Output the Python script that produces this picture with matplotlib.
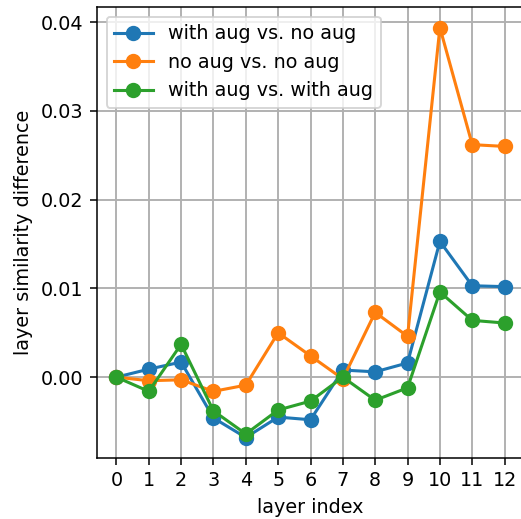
import matplotlib
matplotlib.use('Agg')
from matplotlib import pyplot as plt
import numpy as np

layers = list(range(13))

aug_vs_noaug = [0.0, 0.0009, 0.0017, -0.0046, -0.0068, -0.0045, -0.0048,
                0.0008, 0.0006, 0.0016, 0.0153, 0.0103, 0.0102]
noaug_vs_noaug = [0.0, -0.0004, -0.0003, -0.0016, -0.0009, 0.0050, 0.0024,
                  -0.0002, 0.0073, 0.0046, 0.0394, 0.0262, 0.0260]
aug_vs_aug = [0.0, -0.0016, 0.0037, -0.0038, -0.0064, -0.0037, -0.0027,
              0.0000, -0.0026, -0.0012, 0.0096, 0.0064, 0.0061]

dpi = 138
fig = plt.figure(figsize=(521 / dpi, 519 / dpi), dpi=dpi)
ax = fig.add_axes([97 / 521, 61 / 519, 427 / 521, 451 / 519])

ax.plot(layers, aug_vs_noaug, marker='o', ms=7, lw=1.6, label='with aug vs. no aug')
ax.plot(layers, noaug_vs_noaug, marker='o', ms=7, lw=1.6, label='no aug vs. no aug')
ax.plot(layers, aug_vs_aug, marker='o', ms=7, lw=1.6, label='with aug vs. with aug')

ax.set_xticks(layers)
ax.set_xlabel('layer index')
ax.set_ylabel('layer similarity difference')
ax.grid(True, lw=1.0)
ax.legend(loc='upper left')

fig.savefig('out.png', dpi=dpi)
